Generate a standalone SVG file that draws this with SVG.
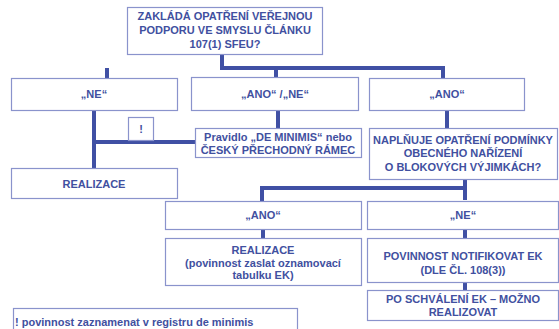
<svg xmlns="http://www.w3.org/2000/svg" width="559" height="329" viewBox="0 0 559 329">
<style>
.box{fill:#ffffff;stroke:#8a93cc;stroke-width:1.2}
.t{font-family:"Liberation Sans",Arial,sans-serif;font-weight:bold;font-size:11px;fill:#4150a0;text-anchor:middle}
.c{fill:none;stroke:#4050a4;stroke-width:4;stroke-linejoin:miter}
</style>
<rect width="559" height="329" fill="#ffffff"/>
<g id="connectors">
<path class="c" d="M222 54V68H443V78"/>
<path class="c" d="M107 78V68"/>
<path class="c" d="M276 68V78"/>
<path class="c" d="M278 111V128"/>
<path class="c" d="M94 111V169"/>
<path class="c" d="M94 142H195"/>
<path class="c" d="M447 111V128"/>
<path class="c" d="M465 179V200"/>
<path class="c" d="M465 188H262V201"/>
<path class="c" d="M263 229V238"/>
<path class="c" d="M465 229V238"/>
<path class="c" d="M465 282V290"/>
</g>
<g id="n-top"><rect class="box" x="127.5" y="7.5" width="195" height="47"/>
<text class="t" x="225" y="20">ZAKLÁDÁ OPATŘENÍ VEŘEJNOU</text>
<text class="t" x="225" y="34">PODPORU VE SMYSLU ČLÁNKU</text>
<text class="t" x="225" y="48">107(1) SFEU?</text></g>
<g id="n-ne"><rect class="box" x="11.5" y="78.5" width="166" height="32"/>
<text class="t" x="94" y="98">„NE“</text></g>
<g id="n-anone"><rect class="box" x="191.5" y="77.5" width="167" height="33"/>
<text class="t" x="275" y="98">„ANO“ /„NE“</text></g>
<g id="n-ano"><rect class="box" x="369.5" y="78.5" width="155" height="32"/>
<text class="t" x="447" y="98">„ANO“</text></g>
<g id="n-excl"><rect class="box" x="128.5" y="117.5" width="25" height="23"/>
<text class="t" x="141" y="133">!</text></g>
<g id="n-pravidlo"><rect class="box" x="195.5" y="128.5" width="166" height="29"/>
<text class="t" x="278" y="141">Pravidlo „DE MINIMIS“ nebo</text>
<text class="t" x="278" y="154">ČESKÝ PŘECHODNÝ RÁMEC</text></g>
<g id="n-realizace1"><rect class="box" x="11.5" y="168.5" width="166" height="30"/>
<text class="t" x="94" y="188">REALIZACE</text></g>
<g id="n-naplnuje"><rect class="box" x="369.5" y="128.5" width="188" height="51"/>
<text class="t" x="463" y="144">NAPLŇUJE OPATŘENÍ PODMÍNKY</text>
<text class="t" x="463" y="157">OBECNÉHO NAŘÍZENÍ</text>
<text class="t" x="463" y="171">O BLOKOVÝCH VÝJIMKÁCH?</text></g>
<g id="n-ano2"><rect class="box" x="165.5" y="201.5" width="196" height="28"/>
<text class="t" x="263" y="219">„ANO“</text></g>
<g id="n-ne2"><rect class="box" x="367.5" y="201.5" width="191" height="28"/>
<text class="t" x="463" y="219">„NE“</text></g>
<g id="n-realizace2"><rect class="box" x="165.5" y="238.5" width="196" height="47"/>
<text class="t" x="263" y="254">REALIZACE</text>
<text class="t" x="263" y="267">(povinnost zaslat oznamovací</text>
<text class="t" x="263" y="279">tabulku EK)</text></g>
<g id="n-povinnost"><rect class="box" x="367.5" y="238.5" width="191" height="44"/>
<text class="t" x="463" y="260">POVINNOST NOTIFIKOVAT EK</text>
<text class="t" x="463" y="274">(DLE ČL. 108(3))</text></g>
<g id="n-po"><rect class="box" x="367.5" y="290.5" width="191" height="30"/>
<text class="t" x="463" y="303">PO SCHVÁLENÍ EK – MOŽNO</text>
<text class="t" x="463" y="316">REALIZOVAT</text></g>
<g id="n-note"><rect class="box" x="13.5" y="308.5" width="284" height="25"/>
<text class="t" x="15" y="326" style="text-anchor:start">! povinnost zaznamenat v registru de minimis</text></g>
</svg>
